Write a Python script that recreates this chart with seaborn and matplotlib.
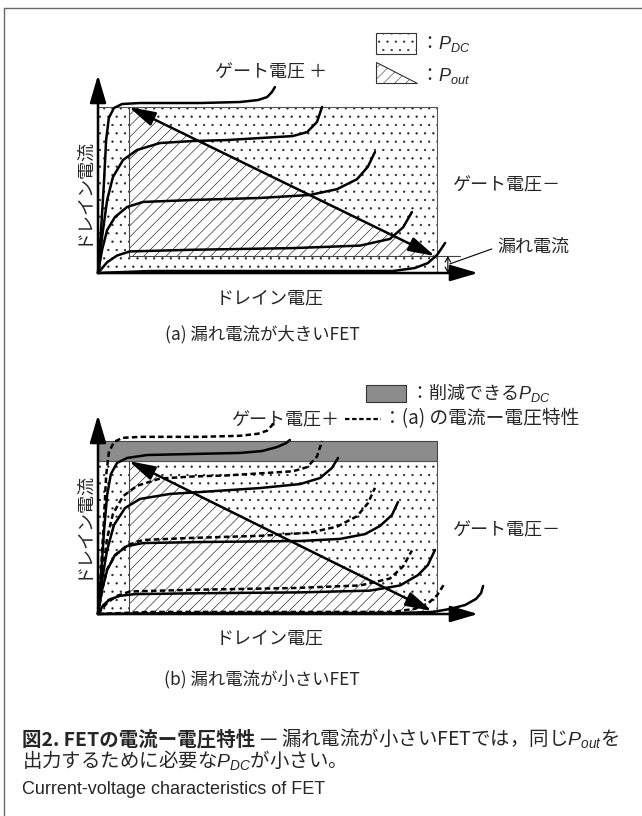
import matplotlib
matplotlib.use("Agg")
import matplotlib.pyplot as plt
import seaborn as sns
from matplotlib.patches import Rectangle, Polygon

sns.set_theme(style="white")
plt.rcParams["font.family"] = ["Noto Sans CJK JP", "DejaVu Sans"]
plt.rcParams["mathtext.fontset"] = "custom"
plt.rcParams["mathtext.it"] = "Liberation Sans:italic"
plt.rcParams["mathtext.rm"] = "Liberation Sans"
plt.rcParams["hatch.linewidth"] = 0.4

# ---- data (V: drain voltage, I: drain current, both scaled so the P_DC box is 1 x 1)
knee_v = 0.091      # knee voltage (left edge of the P_out triangle)
a_leak_i = 0.102    # leakage current, FET (a)
b_leak_i = 0.017    # leakage current, FET (b)
b_dc_top = 0.884    # reduced P_DC top, FET (b)

# FET (a): large leakage (also drawn dashed in (b))
a1_v = [0, 0.009, 0.018, 0.024, 0.032, 0.047, 0.071, 0.124, 0.301, 0.419, 0.472, 0.499, 0.513, 0.522]
a1_i = [0, 0.259, 0.560, 0.801, 0.934, 0.994, 1.018, 1.024, 1.024, 1.030, 1.042, 1.060, 1.090, 1.120]
a2_v = [0, 0.012, 0.027, 0.044, 0.074, 0.115, 0.183, 0.280, 0.381, 0.478, 0.575, 0.617, 0.646, 0.661]
a2_i = [0, 0.217, 0.440, 0.578, 0.681, 0.741, 0.783, 0.795, 0.801, 0.813, 0.825, 0.849, 0.910, 1.000]
a3_v = [0, 0.012, 0.027, 0.050, 0.086, 0.133, 0.280, 0.478, 0.625, 0.705, 0.764, 0.796, 0.817]
a3_i = [0, 0.139, 0.259, 0.337, 0.398, 0.428, 0.440, 0.452, 0.470, 0.505, 0.565, 0.640, 0.729]
a4_v = [0, 0.027, 0.056, 0.094, 0.280, 0.575, 0.773, 0.861, 0.900, 0.926]
a4_i = [0, 0.065, 0.105, 0.130, 0.140, 0.150, 0.165, 0.205, 0.275, 0.367]
a5_v = [0, 0.153, 0.596, 0.870, 0.935, 0.973, 1.000, 1.024]
a5_i = [0, 0.012, 0.012, 0.012, 0.030, 0.060, 0.108, 0.181]

# FET (b): small leakage
b1_v = [0, 0.009, 0.018, 0.027, 0.038, 0.056, 0.086, 0.145, 0.280, 0.419, 0.484, 0.528, 0.555, 0.566]
b1_i = [0, 0.225, 0.486, 0.688, 0.809, 0.873, 0.902, 0.919, 0.925, 0.931, 0.942, 0.965, 0.988, 1.006]
b2_v = [0, 0.012, 0.027, 0.047, 0.080, 0.124, 0.212, 0.301, 0.478, 0.596, 0.655, 0.690, 0.708]
b2_i = [0, 0.197, 0.370, 0.514, 0.613, 0.665, 0.694, 0.705, 0.728, 0.751, 0.786, 0.844, 0.902]
b3_v = [0, 0.012, 0.027, 0.050, 0.086, 0.133, 0.301, 0.596, 0.714, 0.788, 0.832, 0.867, 0.885]
b3_i = [0, 0.139, 0.254, 0.341, 0.393, 0.410, 0.416, 0.422, 0.434, 0.462, 0.509, 0.572, 0.647]
b4_v = [0, 0.015, 0.035, 0.065, 0.109, 0.301, 0.596, 0.802, 0.891, 0.944, 0.973, 0.994]
b4_i = [0, 0.050, 0.085, 0.105, 0.115, 0.120, 0.125, 0.135, 0.165, 0.225, 0.283, 0.370]
b5_v = [0, 0.301, 0.891, 0.988, 1.038, 1.083, 1.115, 1.130, 1.136]
b5_i = [0, 0.006, 0.006, 0.012, 0.029, 0.052, 0.087, 0.121, 0.162]

a_curves = [(a1_v, a1_i), (a2_v, a2_i), (a3_v, a3_i), (a4_v, a4_i), (a5_v, a5_i)]
b_curves = [(b1_v, b1_i), (b2_v, b2_i), (b3_v, b3_i), (b4_v, b4_i), (b5_v, b5_i)]

# ---- figure in pixel units
W, H = 642, 816
fig = plt.figure(figsize=(W / 100, H / 100), dpi=100)
bg = fig.add_axes([0, 0, 1, 1])
bg.set_xlim(0, W)
bg.set_ylim(H, 0)
bg.set_axis_off()

PX_V = 339


def panel(org_x, org_y, px_i, y_top, y_bot):
    x0, x1 = 40, 520
    ax = fig.add_axes([x0 / W, 1 - y_bot / H, (x1 - x0) / W, (y_bot - y_top) / H])
    ax.set_xlim((x0 - org_x) / PX_V, (x1 - org_x) / PX_V)
    ax.set_ylim((org_y - y_bot) / px_i, (org_y - y_top) / px_i)
    ax.set_axis_off()
    ax.patch.set_alpha(0)
    return ax


ax_a = panel(98, 273, 166, 60, 300)
ax_b = panel(98, 614, 173, 400, 640)

thin = dict(color="#444444", lw=0.8, zorder=3)
curve_lw = 1.8
dash = (0, (2.2, 1.3))


def arrow(ax, start, end, style, scale, lw, z=6):
    ax.annotate("", xy=end, xytext=start,
                arrowprops=dict(arrowstyle=style, mutation_scale=scale, lw=lw,
                                color="black", shrinkA=0, shrinkB=0),
                zorder=z)


def axes_arrows(ax, ytip):
    arrow(ax, (0, 0), (0, ytip), "-|>,head_length=0.85,head_width=0.25", 20, 1.8)
    arrow(ax, (0, 0), ((478 - 98) / PX_V, 0), "-|>,head_length=0.85,head_width=0.25", 20, 1.8)


# ---- panel (a)
ax_a.add_patch(Rectangle((0, 0), 1.0, 1.0, facecolor="white", edgecolor="#222222",
                         hatch="..", lw=0, zorder=1))
ax_a.add_patch(Polygon([(knee_v, 1.0), (knee_v, a_leak_i), (1.0, a_leak_i)],
                       facecolor="white", edgecolor="black", hatch="///", lw=0, zorder=2))
ax_a.add_patch(Rectangle((0, 0), 1.0, 1.0, fill=False, edgecolor="#555555", lw=0.8, zorder=3))
ax_a.plot([knee_v, knee_v], [a_leak_i, 1.0], **thin)
ax_a.plot([knee_v, (460 - 98) / PX_V], [a_leak_i, a_leak_i], **thin)

for v, i in a_curves:
    sns.lineplot(x=v, y=i, ax=ax_a, sort=False, estimator=None, color="black",
                 lw=curve_lw, zorder=4, legend=False)

arrow(ax_a, (0.994, a_leak_i), (knee_v, 1.0), "<|-|>,head_length=0.8,head_width=0.22", 20, 1.8, 5)
axes_arrows(ax_a, (273 - 75) / 166)
arrow(ax_a, (1.032, 0.0), (1.032, a_leak_i), "<->,head_length=0.35,head_width=0.2", 10, 0.8)
ax_a.plot([1.038, 1.162], [0.055, 0.145], color="black", lw=0.8, zorder=3)

# ---- panel (b)
ax_b.add_patch(Rectangle((0, b_dc_top), 1.0, 1.0 - b_dc_top, facecolor="#8c8c8c",
                         edgecolor="#444444", lw=0.8, zorder=2))
ax_b.add_patch(Rectangle((0, 0), 1.0, b_dc_top, facecolor="white", edgecolor="#222222",
                         hatch="..", lw=0, zorder=1))
ax_b.add_patch(Polygon([(knee_v, b_dc_top), (knee_v, 0), (1.0, 0), (1.0, b_leak_i)],
                       facecolor="white", edgecolor="black", hatch="///", lw=0, zorder=2))
ax_b.add_patch(Rectangle((0, 0), 1.0, b_dc_top, fill=False, edgecolor="#555555", lw=0.8, zorder=3))
ax_b.plot([knee_v, knee_v], [0, b_dc_top], **thin)

for v, i in a_curves:
    sns.lineplot(x=v, y=i, ax=ax_b, sort=False, estimator=None, color="black",
                 lw=curve_lw, linestyle=dash, zorder=4, legend=False)
for v, i in b_curves:
    sns.lineplot(x=v, y=i, ax=ax_b, sort=False, estimator=None, color="black",
                 lw=curve_lw, zorder=4, legend=False)

arrow(ax_b, (0.985, b_leak_i), (knee_v, b_dc_top), "<|-|>,head_length=0.8,head_width=0.22", 20, 1.8, 5)
axes_arrows(ax_b, (614 - 415) / 173)

# ---- legends
bg.add_patch(Rectangle((376, 33), 40, 21, facecolor="white", edgecolor="#333333",
                       hatch="..", lw=0.8))
bg.add_patch(Polygon([(376, 62), (376, 83), (417, 83)], facecolor="white",
                     edgecolor="#333333", hatch="///", lw=0.8))
bg.text(420, 49, "：$P_{DC}$", fontsize=13, va="baseline")
bg.text(420, 81, "：$P_{out}$", fontsize=13, va="baseline")

bg.add_patch(Rectangle((366, 385), 40, 17, facecolor="#8c8c8c", edgecolor="#333333", lw=0.8))
bg.text(410, 399, "：削減できる$P_{DC}$", fontsize=13, va="baseline")
bg.plot([345, 381], [419, 419], color="black", lw=1.6, linestyle=(0, (2.0, 1.2)))
bg.text(383, 419, "：(a) の電流ー電圧特性", fontsize=13.5, va="center")

# ---- labels
txt = dict(fontsize=13, va="center")
bg.text(215, 72, "ゲート電圧 ＋", **txt)
bg.text(452, 185, "ゲート電圧－", **txt)
bg.text(497, 247, "漏れ電流", **txt)
bg.text(82, 191, "ドレイン電流", rotation=90, ha="center", **txt)
bg.text(270, 298, "ドレイン電圧", ha="center", **txt)
bg.text(262, 334, "(a) 漏れ電流が大きいFET", ha="center", fontsize=12.5, va="center")

bg.text(231, 420, "ゲート電圧＋", fontsize=13, va="center")
bg.text(452, 530, "ゲート電圧－", **txt)
bg.text(82, 525, "ドレイン電流", rotation=90, ha="center", **txt)
bg.text(270, 638, "ドレイン電圧", ha="center", **txt)
bg.text(262, 679, "(b) 漏れ電流が小さいFET", ha="center", fontsize=12.5, va="center")

# ---- caption
t1 = bg.text(22, 745, "図2. FETの電流ー電圧特性", fontsize=14, fontweight="bold", va="baseline")
fig.canvas.draw()
x_end = t1.get_window_extent().x1
bg.text(x_end, 745, " — 漏れ電流が小さいFETでは，同じ$P_{out}$を", fontsize=14, va="baseline")
bg.text(22, 767, "出力するために必要な$P_{DC}$が小さい。", fontsize=14, va="baseline")
bg.text(22, 790, "Current-voltage characteristics of FET", fontsize=13,
        family="Liberation Sans", va="center")

# frame
bg.plot([4, 4], [8, H], color="#666666", lw=1)
bg.plot([4, W], [8, 8], color="#666666", lw=1)

fig.savefig("out.png", dpi=100)
